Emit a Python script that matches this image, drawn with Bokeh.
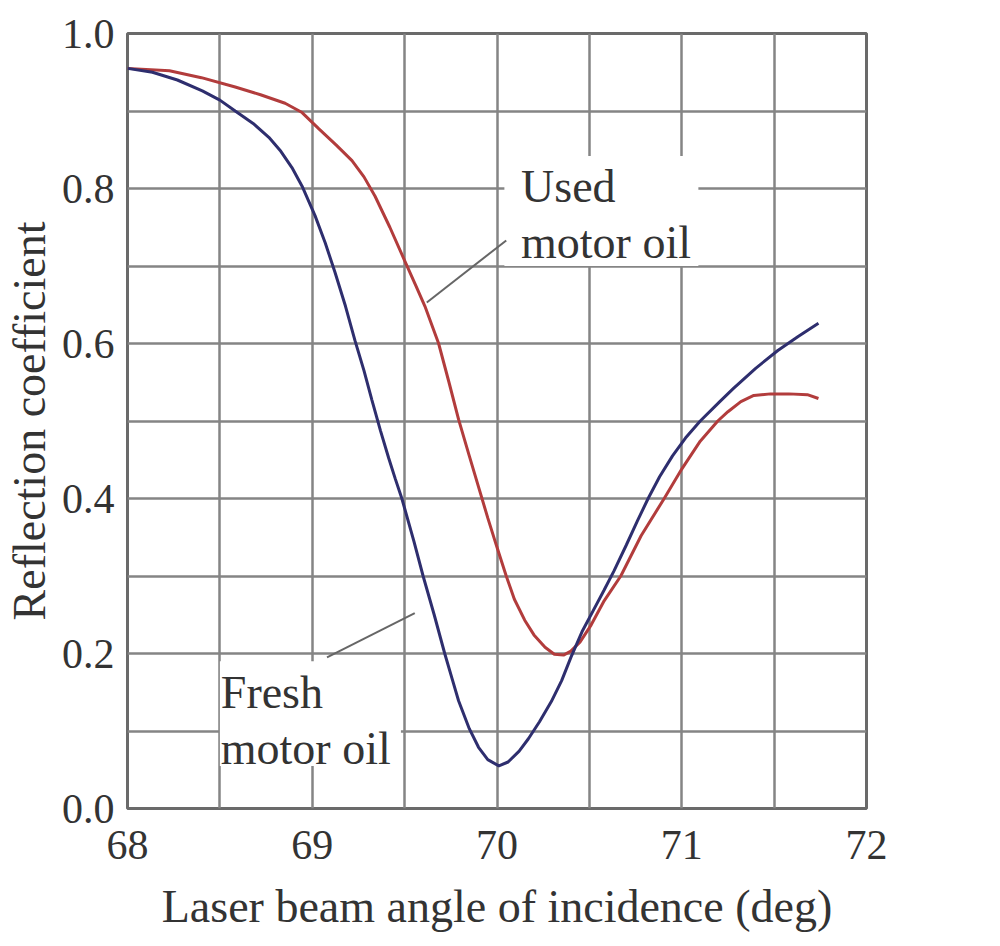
from bokeh.plotting import figure
from bokeh.models import FixedTicker, Range1d, CustomJSTickFormatter
from bokeh.embed import file_html
from bokeh.resources import INLINE
from bokeh.core.properties import value

# ---- data ----
fresh_angle = [68.0, 68.135, 68.27, 68.405, 68.50, 68.583, 68.68, 68.765, 68.83, 68.89,
               68.945, 69.015, 69.07, 69.123, 69.18, 69.231, 69.28, 69.323, 69.37, 69.414,
               69.45, 69.485, 69.55, 69.60, 69.66, 69.717, 69.76, 69.792, 69.85, 69.90,
               69.95, 70.01, 70.06, 70.12, 70.17, 70.23, 70.294, 70.35, 70.40, 70.46,
               70.52, 70.58, 70.634, 70.70, 70.76, 70.818, 70.88, 70.95, 71.02, 71.10,
               71.21, 71.28, 71.40, 71.52, 71.63, 71.74]
fresh_refl = [0.955, 0.950, 0.940, 0.926, 0.914, 0.900, 0.884, 0.866, 0.848, 0.827,
              0.803, 0.765, 0.730, 0.692, 0.648, 0.604, 0.565, 0.527, 0.487, 0.452,
              0.425, 0.400, 0.345, 0.300, 0.250, 0.200, 0.165, 0.139, 0.103, 0.079,
              0.063, 0.055, 0.060, 0.074, 0.090, 0.112, 0.138, 0.165, 0.195, 0.228,
              0.255, 0.282, 0.307, 0.340, 0.371, 0.400, 0.428, 0.455, 0.478, 0.500,
              0.526, 0.542, 0.568, 0.591, 0.609, 0.626]

used_angle = [68.0, 68.227, 68.40, 68.583, 68.72, 68.853, 68.945, 69.036, 69.13, 69.215,
              69.28, 69.34, 69.42, 69.50, 69.56, 69.61, 69.684, 69.74, 69.792, 69.85,
              69.90, 69.95, 70.00, 70.05, 70.094, 70.15, 70.20, 70.26, 70.31, 70.36,
              70.40, 70.45, 70.51, 70.58, 70.67, 70.78, 70.905, 71.00, 71.10, 71.195,
              71.25, 71.32, 71.39, 71.48, 71.58, 71.68, 71.74]
used_refl = [0.955, 0.952, 0.943, 0.931, 0.921, 0.910, 0.898, 0.877, 0.856, 0.836,
             0.815, 0.790, 0.750, 0.707, 0.675, 0.648, 0.600, 0.550, 0.502, 0.455,
             0.415, 0.375, 0.337, 0.300, 0.270, 0.243, 0.224, 0.208, 0.199, 0.198,
             0.203, 0.215, 0.237, 0.268, 0.300, 0.352, 0.400, 0.438, 0.474, 0.500,
             0.512, 0.525, 0.533, 0.535, 0.535, 0.534, 0.529]

x_ticks = [68, 69, 70, 71, 72]
y_ticks = [0.0, 0.2, 0.4, 0.6, 0.8, 1.0]
x_grid = [68.5, 69, 69.5, 70, 70.5, 71, 71.5]
y_grid = [0.1, 0.2, 0.3, 0.4, 0.5, 0.6, 0.7, 0.8, 0.9]

x_title = "Laser beam angle of incidence (deg)"
y_title = "Reflection coefficient"
used_label = "Used\nmotor oil"
fresh_label = "Fresh\nmotor oil"

SERIF = "Liberation Serif"
TXT = "#333333"

p = figure(width=900, height=940, output_backend="svg", toolbar_location=None,
           x_range=Range1d(68, 72), y_range=Range1d(0, 1.0),
           min_border_left=125, min_border_right=34, min_border_top=33, min_border_bottom=132)
p.background_fill_color = "white"
p.border_fill_color = "white"
p.outline_line_color = "#6a6a6a"
p.outline_line_width = 3

p.xaxis.ticker = FixedTicker(ticks=x_ticks)
p.yaxis.ticker = FixedTicker(ticks=y_ticks)
p.xgrid.ticker = FixedTicker(ticks=x_grid)
p.ygrid.ticker = FixedTicker(ticks=y_grid)
for g in (p.xgrid, p.ygrid):
    g.grid_line_color = "#858585"
    g.grid_line_width = 2.5
    g.grid_line_alpha = 1.0

p.yaxis.formatter = CustomJSTickFormatter(code="return tick.toFixed(1);")

for ax in (p.xaxis, p.yaxis):
    ax.axis_line_color = None
    ax.major_tick_line_color = None
    ax.minor_tick_line_color = None
    ax.major_label_text_font = SERIF
    ax.major_label_text_font_size = "42px"
    ax.major_label_text_color = TXT
    ax.axis_label_text_font = SERIF
    ax.axis_label_text_font_size = "46px"
    ax.axis_label_text_font_style = "normal"
    ax.axis_label_text_color = TXT

p.xaxis.axis_label = x_title
p.yaxis.axis_label = y_title
p.xaxis.major_label_standoff = 16
p.yaxis.major_label_standoff = 7
p.xaxis.axis_label_standoff = 19
p.yaxis.axis_label_standoff = 4

# curves
p.line(used_angle, used_refl, line_color="#b23c3c", line_width=3)
p.line(fresh_angle, fresh_refl, line_color="#2e2e6e", line_width=3)

# white boxes behind labels (cover the grid)
p.quad(left=[70.04], right=[71.09], bottom=[0.70], top=[0.842], fill_color="white", line_color=None)
p.quad(left=[68.5], right=[69.48], bottom=[0.055], top=[0.19], fill_color="white", line_color=None)

# leader lines
p.segment(x0=[69.62, 69.555], y0=[0.653, 0.252], x1=[70.05, 69.08], y1=[0.733, 0.195],
          line_color="#666666", line_width=2)

p.text(x=[70.13], y=[0.836], text=[used_label], text_font=value(SERIF), text_font_size="46px",
       text_color=TXT, text_baseline="top", text_align="left", text_line_height=1.1)
p.text(x=[68.505], y=[0.183], text=[fresh_label], text_font=value(SERIF), text_font_size="46px",
       text_color=TXT, text_baseline="top", text_align="left", text_line_height=1.1)

open("out.html", "w").write(file_html(p, INLINE))
